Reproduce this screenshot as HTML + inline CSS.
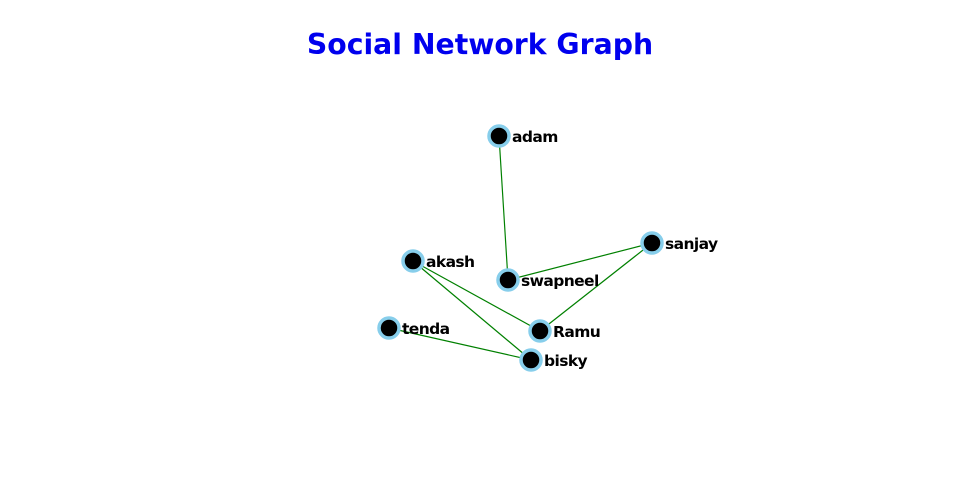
<!DOCTYPE html>
<html><head><meta charset="utf-8"><style>
html,body{margin:0;padding:0;background:#fff;width:960px;height:500px;overflow:hidden}
svg text{font-family:"DejaVu Sans","Liberation Sans",sans-serif}
</style></head><body>
<svg width="960" height="500" viewBox="0 0 960 500">
<text x="480" y="54" text-anchor="middle" font-size="28.3" font-weight="bold" fill="#0000ee">Social Network Graph</text>
<g stroke="#008000" stroke-width="1.2">
<line x1="499" y1="136" x2="508" y2="280"/>
<line x1="508" y1="280" x2="652" y2="243"/>
<line x1="652" y1="243" x2="540" y2="331"/>
<line x1="413" y1="261" x2="540" y2="331"/>
<line x1="413" y1="261" x2="531" y2="360"/>
<line x1="389" y1="328" x2="531" y2="360"/>
</g>
<g fill="#000" stroke="#87ceeb" stroke-width="3.5">
<circle cx="499" cy="136" r="10"/>
<circle cx="508" cy="280" r="10"/>
<circle cx="652" cy="243" r="10"/>
<circle cx="413" cy="261" r="10"/>
<circle cx="540" cy="331" r="10"/>
<circle cx="389" cy="328" r="10"/>
<circle cx="531" cy="360" r="10"/>
</g>
<g font-family="Liberation Sans, sans-serif" font-size="15.5" fill="#000" font-weight="bold" style="letter-spacing:-0.6px">
<text x="512" y="142">adam</text>
<text x="521" y="286">swapneel</text>
<text x="665" y="249">sanjay</text>
<text x="426" y="267">akash</text>
<text x="553" y="337">Ramu</text>
<text x="402" y="334">tenda</text>
<text x="544" y="366">bisky</text>
</g>
</svg>
</body></html>
